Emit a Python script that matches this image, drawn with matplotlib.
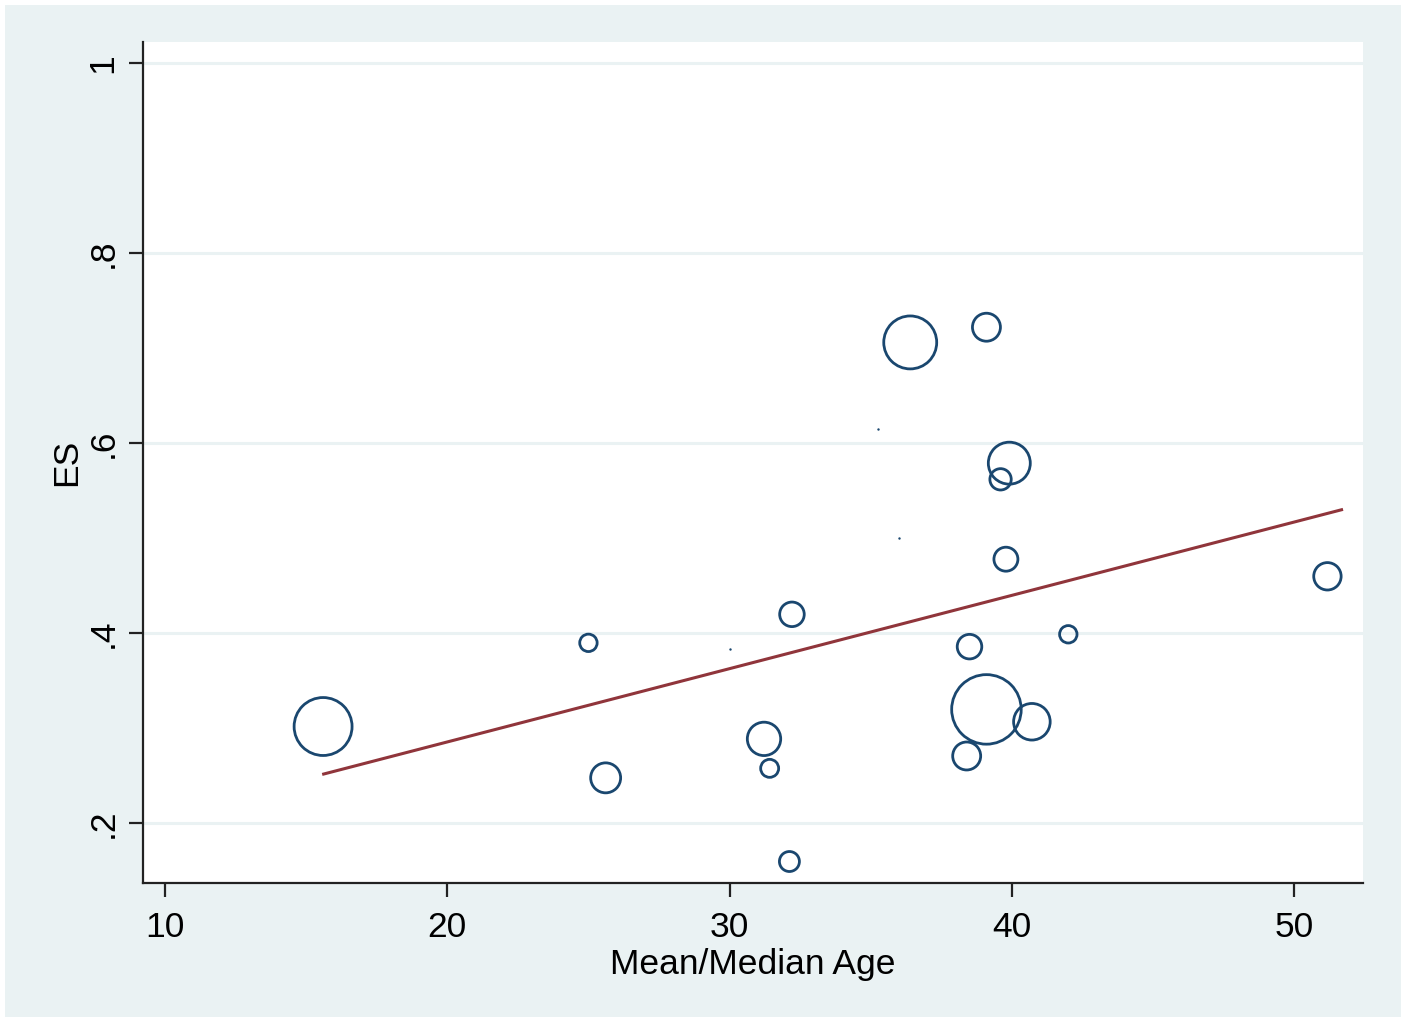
import matplotlib
matplotlib.use("Agg")
import matplotlib.pyplot as plt
from matplotlib.patches import Rectangle

# study-level data
age = [15.60, 25.00, 25.61, 31.22, 31.42, 32.12, 32.21, 36.40, 39.10,
       39.91, 39.60, 39.79, 38.50, 39.10, 40.71, 38.40, 42.00, 51.18]
es = [0.302, 0.390, 0.248, 0.289, 0.258, 0.160, 0.420, 0.706, 0.722,
      0.579, 0.562, 0.478, 0.386, 0.320, 0.307, 0.271, 0.399, 0.460]
weight = [841, 76, 225, 279, 81, 100, 151, 702, 196,
          441, 114, 144, 151, 1211, 335, 196, 76, 188]

# studies with ~zero weight (drawn as dots)
age_zero = [35.25, 36.00, 30.00]
es_zero = [0.615, 0.500, 0.384]

# fitted meta-regression line
fit_x = [15.62, 51.68]
fit_y = [0.252, 0.530]

xticks = [10, 20, 30, 40, 50]
yticks = [0.2, 0.4, 0.6, 0.8, 1.0]
ytick_labels = [".2", ".4", ".6", ".8", "1"]

plt.rcParams["font.family"] = ["Liberation Sans", "DejaVu Sans"]

navy = "#1a476f"
maroon = "#90353b"
bg = "#eaf2f3"

fig = plt.figure(figsize=(14.07, 10.19), dpi=100, facecolor="white")
fig.patches.append(Rectangle((5 / 1407, 2 / 1019), 1396 / 1407, 1012 / 1019,
                             transform=fig.transFigure, facecolor=bg,
                             edgecolor="none", zorder=-10))

ax = fig.add_axes([143 / 1407, 1 - 883 / 1019, 1220 / 1407, 841 / 1019])
ax.set_facecolor("white")

ax.set_xlim(9.22, 52.44)
ax.set_ylim(0.1374, 1.022)

for y in yticks:
    ax.axhline(y, color=bg, lw=2.2, zorder=1)

ax.scatter(age, es, s=[2.07 * w for w in weight], facecolors="none",
           edgecolors=navy, linewidths=2.0, zorder=3)
ax.scatter(age_zero, es_zero, s=3, color=navy, linewidths=0, zorder=3)
ax.plot(fit_x, fit_y, color=maroon, lw=2.2, zorder=2)

for side in ["top", "right"]:
    ax.spines[side].set_visible(False)
for side in ["left", "bottom"]:
    ax.spines[side].set_linewidth(1.6)
    ax.spines[side].set_color("#222222")

ax.set_xticks(xticks)
ax.set_xticklabels([str(t) for t in xticks])
ax.set_yticks(yticks)
ax.set_yticklabels(ytick_labels, rotation=90, va="center")
ax.tick_params(axis="both", length=10, width=1.6, color="#222222",
               labelsize=25.5)
ax.tick_params(axis="x", pad=10)
ax.tick_params(axis="y", pad=7)

ax.set_xlabel("Mean/Median Age", fontsize=25.5, labelpad=3)
ax.set_ylabel("ES", fontsize=25.5, labelpad=2)

fig.savefig("out.png", dpi=100, facecolor="white")
